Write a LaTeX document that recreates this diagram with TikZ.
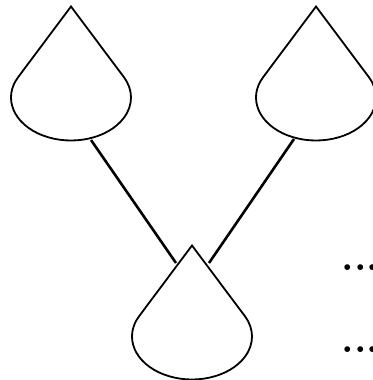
\documentclass[tikz,border=0pt]{standalone}
\usepackage{fontspec}
\tikzset{
  dropline/.style={line width=1.8pt, line join=miter},
  linkline/.style={line width=2.6pt},
  dotstext/.style={inner sep=0pt, anchor=base west, font=\fontsize{40}{44}\selectfont\bfseries}
}
\newcommand{\teardrop}[1]{%
  \draw[dropline] ($(#1)+(0,91)$) -- ($(#1)+(-52.87,20.32)$)
    arc[start angle=151.8, end angle=388.2, x radius=60, y radius=43] -- cycle;}
\usetikzlibrary{calc}
\begin{document}
\begin{tikzpicture}[x=1pt,y=1pt]
  \useasboundingbox (0,0) rectangle (372,380);
  \coordinate (A) at (71,282.5);
  \coordinate (B) at (316,282.5);
  \coordinate (C) at (192,43.5);
  \teardrop{A}
  \teardrop{B}
  \teardrop{C}
  \coordinate (Abot) at (91,240);
  \coordinate (Bbot) at (294,241);
  \coordinate (Cl) at (176,117);
  \coordinate (Cr) at (209,117);
  \draw[linkline] (Abot) -- (Cl);
  \draw[linkline] (Bbot) -- (Cr);
  \node[dotstext] (dots1) at (341.5,109.5) {...};
  \node[dotstext] (dots2) at (341.5,27.5) {...};
\end{tikzpicture}
\end{document}
